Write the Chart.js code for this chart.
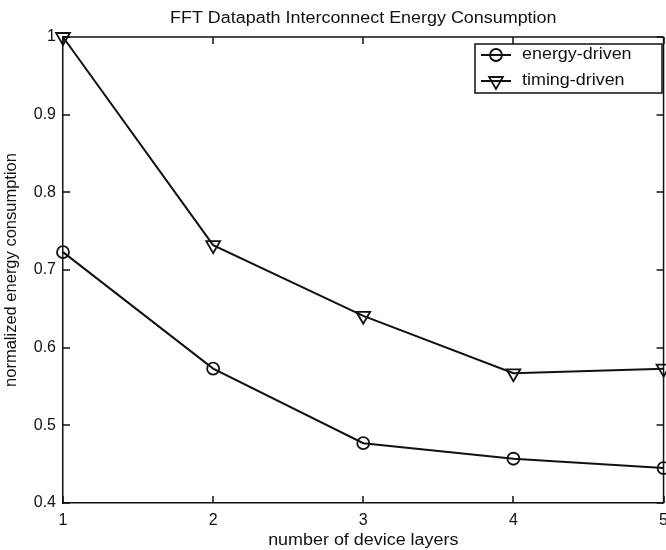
<!DOCTYPE html>
<html>
<head>
<meta charset="utf-8">
<script src="https://cdn.jsdelivr.net/npm/chart.js@4/dist/chart.umd.min.js"></script>
<style>
  html, body { margin: 0; padding: 0; background: #fff; overflow: hidden; }
  #wrap { width: 676px; height: 550px; }
</style>
</head>
<body>
<div id="wrap"><canvas id="fftChart" width="676" height="550"></canvas></div>
<script>
// chart data
const layers = [1, 2, 3, 4, 5];
const energyDriven = [0.723, 0.573, 0.477, 0.457, 0.445];
const timingDriven = [1.0, 0.732, 0.641, 0.567, 0.573];
const yTickLabels = ["0.4", "0.5", "0.6", "0.7", "0.8", "0.9", "1"];
const xTickLabels = ["1", "2", "3", "4", "5"];

const FONT = "'Liberation Sans', Arial, Helvetica, sans-serif";
const INK = "#111";
const STRETCH = 1.12; // scanned text is a bit wider than it is tall

function toPoints(values) {
    return layers.map((x, i) => ({ x: x, y: values[i] }));
}

// draw horizontally stretched text
function wideText(ctx, text, x, y, align) {
    ctx.save();
    ctx.translate(x, y);
    ctx.scale(STRETCH, 1);
    ctx.textAlign = align;
    ctx.textBaseline = "middle";
    ctx.fillText(text, 0, 0);
    ctx.restore();
}

// MATLAB-style frame: box, inward ticks, title, xlabel, legend
const matlabFrame = {
    id: "matlabFrame",
    afterDraw(chart) {
        const ctx = chart.ctx;
        const area = chart.chartArea;
        const xs = chart.scales.x;
        const ys = chart.scales.y;
        ctx.save();
        ctx.strokeStyle = INK;
        ctx.lineWidth = 1.5;

        // box
        ctx.beginPath();
        ctx.moveTo(area.left, area.top);
        ctx.lineTo(area.right, area.top);
        ctx.moveTo(area.right, area.top);
        ctx.lineTo(area.right, area.bottom);
        ctx.stroke();

        // inward ticks
        ctx.beginPath();
        ys.ticks.forEach(t => {
            const py = Math.round(ys.getPixelForValue(t.value));
            ctx.moveTo(area.left, py);
            ctx.lineTo(area.left + 7, py);
            ctx.moveTo(area.right, py);
            ctx.lineTo(area.right - 7, py);
        });
        xs.ticks.forEach(t => {
            const px = Math.round(xs.getPixelForValue(t.value));
            ctx.moveTo(px, area.bottom);
            ctx.lineTo(px, area.bottom - 7);
            ctx.moveTo(px, area.top);
            ctx.lineTo(px, area.top + 7);
        });
        ctx.stroke();

        // title and x label
        ctx.fillStyle = INK;
        ctx.font = "16px " + FONT;
        const cx = (area.left + area.right) / 2;
        wideText(ctx, "FFT Datapath Interconnect Energy Consumption", cx, 19, "center");
        wideText(ctx, "number of device layers", cx, 541, "center");

        // legend
        const lx = 475, ly = 44, lw = 187, lh = 49;
        ctx.lineWidth = 1.5;
        ctx.fillStyle = "#fff";
        ctx.fillRect(lx, ly, lw, lh);
        ctx.strokeRect(lx, ly, lw, lh);
        chart.data.datasets.forEach((ds, i) => {
            const cy = ly + 11 + i * 26;
            ctx.beginPath();
            ctx.strokeStyle = INK;
            ctx.lineWidth = ds.borderWidth;
            ctx.moveTo(lx + 6, cy);
            ctx.lineTo(lx + 36, cy);
            ctx.stroke();
            ctx.fillStyle = "rgba(0,0,0,0)";
            ctx.lineWidth = ds.pointBorderWidth;
            Chart.helpers.drawPoint(ctx, {
                pointStyle: ds.pointStyle,
                rotation: ds.pointRotation || 0,
                radius: ds.pointRadius,
                borderWidth: ds.pointBorderWidth
            }, lx + 21, cy);
            ctx.fillStyle = INK;
            wideText(ctx, ds.label, lx + 47, cy, "left");
        });
        ctx.restore();
    }
};

const ctx = document.getElementById("fftChart").getContext("2d");

new Chart(ctx, {
    type: "line",
    data: {
        datasets: [
            {
                label: "energy-driven",
                data: toPoints(energyDriven),
                borderColor: INK,
                backgroundColor: "rgba(0,0,0,0)",
                borderWidth: 2,
                pointStyle: "circle",
                pointRadius: 6,
                pointBorderWidth: 1.8,
                pointBackgroundColor: "rgba(0,0,0,0)",
                pointBorderColor: INK,
                tension: 0,
                clip: false,
            },
            {
                label: "timing-driven",
                data: toPoints(timingDriven),
                borderColor: INK,
                backgroundColor: "rgba(0,0,0,0)",
                borderWidth: 2,
                pointStyle: "triangle",
                pointRotation: 180,
                pointRadius: 8,
                pointBorderWidth: 1.8,
                pointBackgroundColor: "rgba(0,0,0,0)",
                pointBorderColor: INK,
                tension: 0,
                clip: false,
            },
        ],
    },
    options: {
        responsive: false,
        animation: false,
        devicePixelRatio: 1,
        layout: {
            padding: { top: 37, right: 7, bottom: 0, left: 0 },
        },
        plugins: {
            legend: { display: false },
            title: { display: false },
            tooltip: { enabled: false },
        },
        scales: {
            x: {
                type: "linear",
                min: 1,
                max: 5,
                afterFit: scale => { scale.height = 47; },
                afterBuildTicks: scale => {
                    scale.ticks = layers.map(v => ({ value: v }));
                },
                grid: { display: false, drawTicks: false },
                border: { display: true, color: INK, width: 1.5 },
                ticks: {
                    color: INK,
                    font: { family: FONT, size: 16 },
                    padding: 8,
                    maxRotation: 0,
                    callback: (value, index) => xTickLabels[index],
                },
            },
            y: {
                type: "linear",
                min: 0.4,
                max: 1.0,
                afterFit: scale => { scale.width = 63; },
                afterBuildTicks: scale => {
                    scale.ticks = yTickLabels.map(v => ({ value: parseFloat(v) }));
                },
                grid: { display: false, drawTicks: false },
                border: { display: true, color: INK, width: 1.5 },
                ticks: {
                    color: INK,
                    font: { family: FONT, size: 16 },
                    padding: 7,
                    callback: (value, index) => yTickLabels[index],
                },
                title: {
                    display: true,
                    text: "normalized energy consumption",
                    color: INK,
                    font: { family: FONT, size: 16.5 },
                    padding: { top: 2, bottom: 2 },
                },
            },
        },
    },
    plugins: [matlabFrame],
});
</script>
</body>
</html>
